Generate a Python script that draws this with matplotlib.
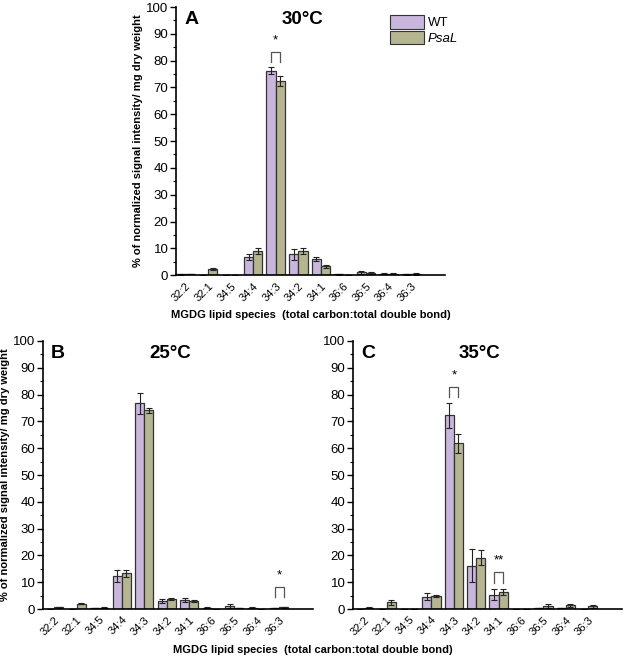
import matplotlib
matplotlib.use("Agg")
import matplotlib.pyplot as plt
import numpy as np
from matplotlib.ticker import MultipleLocator
from matplotlib.patches import Patch

species = ["32:2", "32:1", "34:5", "34:4", "34:3", "34:2", "34:1", "36:6", "36:5", "36:4", "36:3"]

# Panel A (30 °C)
a_wt = [0.3, 0.0, 0.0, 6.8, 76.3, 7.7, 6.0, 0.3, 1.0, 0.6, 0.3]
a_wt_err = [0.1, 0.0, 0.0, 1.2, 1.2, 2.2, 0.6, 0.1, 0.6, 0.3, 0.1]
a_ps = [0.5, 2.3, 0.0, 9.0, 72.5, 9.0, 3.3, 0.0, 0.7, 0.6, 0.5]
a_ps_err = [0.1, 0.5, 0.0, 1.2, 1.8, 1.0, 0.5, 0.0, 0.3, 0.3, 0.3]

# Panel B (25 °C)
b_wt = [0.0, 0.0, 0.4, 12.2, 76.7, 3.0, 3.4, 0.5, 1.0, 0.5, 0.3]
b_wt_err = [0.0, 0.0, 0.1, 2.2, 3.8, 0.6, 0.8, 0.3, 0.7, 0.3, 0.1]
b_ps = [0.6, 2.0, 0.5, 13.3, 74.1, 3.8, 3.0, 0.0, 0.4, 0.0, 0.6]
b_ps_err = [0.1, 0.2, 0.1, 1.3, 1.0, 0.4, 0.3, 0.0, 0.1, 0.0, 0.2]

# Panel C (35 °C)
c_wt = [0.0, 0.0, 0.0, 4.6, 72.2, 16.2, 5.3, 0.0, 0.3, 0.3, 0.0]
c_wt_err = [0.0, 0.0, 0.0, 1.2, 4.7, 6.2, 2.0, 0.0, 0.1, 0.1, 0.0]
c_ps = [0.5, 2.5, 0.0, 4.8, 61.8, 19.2, 6.4, 0.0, 1.0, 1.4, 1.0]
c_ps_err = [0.1, 1.0, 0.0, 0.4, 3.5, 2.8, 1.0, 0.0, 0.8, 0.6, 0.5]

# significance: (category index, bracket bottom, bracket top, label)
a_sig = [(4, 79.5, 83.2, "*")]
b_sig = [(10, 4.5, 8.2, "*")]
c_sig = [(4, 79.0, 82.8, "*"), (6, 9.7, 13.8, "**")]

wt_color = "#C8B6DC"
ps_color = "#B5B592"
edge = "#333333"

fig = plt.figure(figsize=(6.25, 6.63), dpi=100)
plt.rcParams['font.family'] = ['Liberation Sans', 'DejaVu Sans']

ylabel = "% of normalized signal intensity/ mg dry weight"
xlabel = "MGDG lipid species  (total carbon:total double bond)"

def panel(rect, wt, wte, ps, pse, sig, letter, title, xlim_left, show_ylabel=True):
    ax = fig.add_axes(rect)
    x = np.arange(len(species))
    w = 0.41
    ekw = dict(elinewidth=0.8, capthick=0.8, ecolor="#222222")
    ax.bar(x - w / 2, wt, w, yerr=wte, color=wt_color, edgecolor=edge, linewidth=0.9,
           capsize=2.5, error_kw=ekw)
    ax.bar(x + w / 2, ps, w, yerr=pse, color=ps_color, edgecolor=edge, linewidth=0.9,
           capsize=2.5, error_kw=ekw)
    ax.set_xlim(xlim_left, 11.5)
    ax.set_ylim(0, 100)
    ax.spines['top'].set_visible(False)
    ax.spines['right'].set_visible(False)
    ax.spines['left'].set_linewidth(1.2)
    ax.spines['bottom'].set_linewidth(1.2)
    ax.yaxis.set_major_locator(MultipleLocator(10))
    ax.yaxis.set_minor_locator(MultipleLocator(5))
    ax.tick_params(axis='y', which='major', length=4, width=1, labelsize=9.5, pad=1.5)
    ax.tick_params(axis='y', which='minor', length=2, width=0.8)
    ax.set_xticks(x)
    ax.set_xticklabels(species, rotation=45, ha='right', rotation_mode='anchor', fontsize=8)
    ax.tick_params(axis='x', length=0, pad=4)
    for (i, lo, hi, lab) in sig:
        ax.plot([i - w / 2, i - w / 2, i + w / 2, i + w / 2], [lo, hi, hi, lo],
                color="#555555", lw=0.9)
        ax.text(i, hi + 2.0, lab, ha='center', va='bottom', fontsize=9.5)
    ax.text(0.03, 0.985, letter, transform=ax.transAxes, fontsize=14, fontweight='bold',
            ha='left', va='top')
    ax.text(0.47, 0.985, title, transform=ax.transAxes, fontsize=13.5, fontweight='bold',
            ha='center', va='top')
    if show_ylabel:
        ax.set_ylabel(ylabel, fontsize=8, fontweight='bold', labelpad=2)
    return ax

axA = panel([0.2816, 0.585, 0.4304, 0.4044], a_wt, a_wt_err, a_ps, a_ps_err, a_sig,
            "A", "30°C", -0.42)
axA.set_xlabel(xlabel, fontsize=8, fontweight='bold', labelpad=5)
handles = [Patch(facecolor=wt_color, edgecolor=edge, linewidth=0.8),
           Patch(facecolor=ps_color, edgecolor=edge, linewidth=0.8)]
leg = fig.legend(handles, ["WT", "PsaL"], loc='upper left', bbox_to_anchor=(0.615, 0.985),
                 frameon=False, fontsize=9.5, handlelength=2.6, handleheight=1.2,
                 handletextpad=0.3, labelspacing=0.1, borderaxespad=0)
leg.get_texts()[1].set_fontstyle('italic')

axB = panel([0.0688, 0.0814, 0.432, 0.4043], b_wt, b_wt_err, b_ps, b_ps_err, b_sig,
            "B", "25°C", -0.5)
axC = panel([0.5648, 0.0814, 0.4302, 0.4043], c_wt, c_wt_err, c_ps, c_ps_err, c_sig,
            "C", "35°C", -0.5, show_ylabel=False)
fig.text(0.5, 0.012, xlabel, fontsize=8, fontweight='bold', ha='center', va='bottom')

fig.savefig("out.png", dpi=100)
